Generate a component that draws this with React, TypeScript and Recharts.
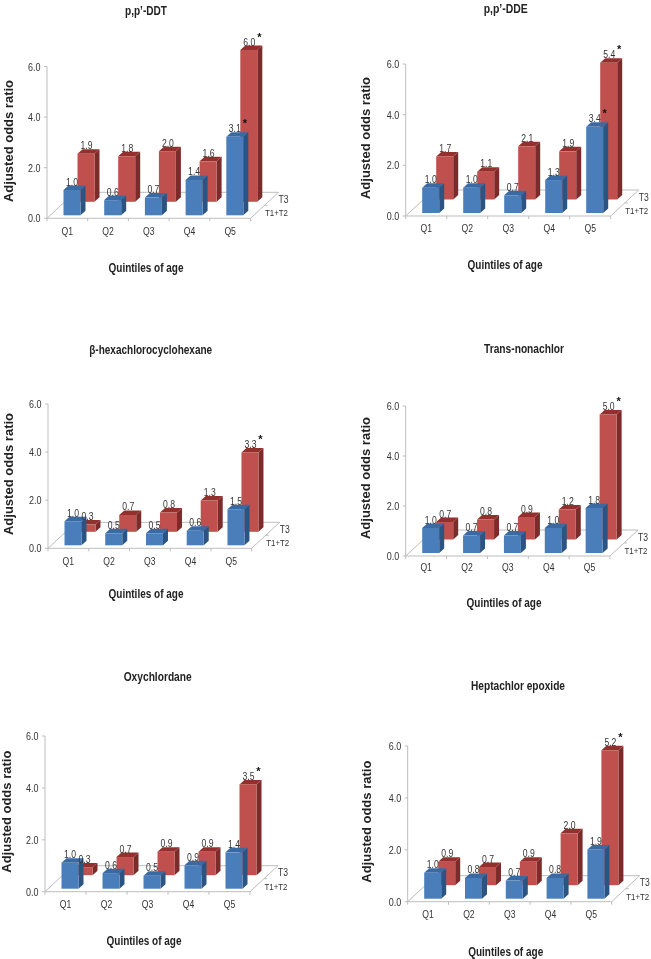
import React from "react";
import { BarChart, Bar, XAxis, YAxis, LabelList } from "recharts";

const quintiles = ["Q1", "Q2", "Q3", "Q4", "Q5"];
const depthLabels = ["T3", "T1+T2"];
const yTicks = [0, 2, 4, 6];

const ddtLow = [1.0, 0.6, 0.7, 1.4, 3.1];
const ddtHigh = [1.9, 1.8, 2.0, 1.6, 6.0];
const ddeLow = [1.0, 1.0, 0.7, 1.3, 3.4];
const ddeHigh = [1.7, 1.1, 2.1, 1.9, 5.4];
const hchLow = [1.0, 0.5, 0.5, 0.6, 1.5];
const hchHigh = [0.3, 0.7, 0.8, 1.3, 3.3];
const transLow = [1.0, 0.7, 0.7, 1.0, 1.8];
const transHigh = [0.7, 0.8, 0.9, 1.2, 5.0];
const oxyLow = [1.0, 0.6, 0.5, 0.9, 1.4];
const oxyHigh = [0.3, 0.7, 0.9, 0.9, 3.5];
const heptLow = [1.0, 0.8, 0.7, 0.8, 1.9];
const heptHigh = [0.9, 0.7, 0.9, 2.0, 5.2];

// index of the quintile carrying a significance star, per series
const starsBoth = [4];
const starsNone: number[] = [];

const FONT = "'Liberation Sans', Arial, sans-serif";
const TEXT = "#333";
const AXIS = "#bdbdbd";

const BLUE = { front: "#4a7ebb", top: "#3a6aa3", side: "#2c5482" };
const RED = { front: "#c0504d", top: "#93302d", side: "#7b2c2a" };

const DEPTH_X = 5;
const DEPTH_Y = 4.5;

function Box3D(props: any) {
  const { x, y, width, height, colors, dx, dy } = props;
  const l = x + dx;
  const t = y + dy;
  const r = l + width;
  const b = t + height;
  return (
    <g>
      <polygon
        points={`${r},${t} ${r + DEPTH_X},${t - DEPTH_Y} ${r + DEPTH_X},${b - DEPTH_Y} ${r},${b}`}
        fill={colors.side}
      />
      <polygon
        points={`${l},${t} ${l + DEPTH_X},${t - DEPTH_Y} ${r + DEPTH_X},${t - DEPTH_Y} ${r},${t}`}
        fill={colors.top}
      />
      <rect x={l} y={t} width={width} height={height} fill={colors.front} />
    </g>
  );
}

// small axis/value text, squeezed like the reference
function Small({ x, y, w, size = 11, anchor = "middle", children }: any) {
  return (
    <text x={x} y={y} textAnchor={anchor} fontSize={size} fill={TEXT} fontFamily={FONT} textLength={w} lengthAdjust="spacingAndGlyphs">
      {children}
    </text>
  );
}

function valueLabel(dx: number, dy: number, stars: number[]) {
  return (props: any) => {
    const { x, y, width, value, index } = props;
    const cx = x + width / 2 + dx;
    const cy = y + dy - 4.5;
    return (
      <g>
        <Small x={cx} y={cy} w={12}>{value.toFixed(1)}</Small>
        {stars.includes(index) && (
          <text x={cx + 10} y={cy - 5} textAnchor="middle" fontSize={11} fontWeight="bold" fill="#111" fontFamily={FONT}>
            *
          </text>
        )}
      </g>
    );
  };
}

function Panel(props: any) {
  const { title, low, high, lowStars, highStars, x0, y0, w, h, L, R, T, B, titleX, titleY, titleW, xLabelX, xLabelY, yLabelX, yLabelY, qY } = props;
  const data = quintiles.map((q, i) => ({ q, low: low[i], high: high[i] }));
  const left = L - x0;
  const right = R - x0;
  const top = T - y0;
  const bottom = B - y0;
  const band = (right - left) / quintiles.length;
  return (
    <div style={{ position: "absolute", left: x0, top: y0, width: w, height: h }}>
      <BarChart
        width={w}
        height={h}
        data={data}
        barSize={17}
        barGap={-17}
        margin={{ left: left - 30, right: w - right, top, bottom: h - bottom - 24 }}
      >
        <g stroke={AXIS} strokeWidth={1} fill="none">
          <polyline points={`${left},${bottom} ${left + 28},${bottom - 26} ${right + 28},${bottom - 26} ${right},${bottom}`} />
          <line x1={right + 14} y1={bottom - 13} x2={right + 17} y2={bottom - 13} />
          {[0, 1, 2, 3, 4, 5].map((i) => (
            <line key={i} x1={left + band * i} y1={bottom} x2={left + band * i} y2={bottom + 3} />
          ))}
        </g>
        <XAxis
          dataKey="q"
          height={24}
          interval={0}
          tickLine={false}
          axisLine={{ stroke: AXIS }}
          tick={(p: any) => <Small x={p.x} y={qY - y0 + 4} w={11.5}>{p.payload.value}</Small>}
        />
        <YAxis
          width={30}
          domain={[0, 6]}
          ticks={yTicks}
          tickSize={3}
          tickLine={{ stroke: AXIS }}
          axisLine={{ stroke: AXIS }}
          tick={(p: any) => <Small x={left - 6.5} y={p.y + 4} w={12.5} anchor="end">{p.payload.value.toFixed(1)}</Small>}
        />
        <Bar
          dataKey="high"
          isAnimationActive={false}
          shape={(p: any) => <Box3D {...p} colors={RED} dx={18.5} dy={-16.5} />}
        >
          <LabelList dataKey="high" content={valueLabel(19, -16.5, highStars)} />
        </Bar>
        <Bar
          dataKey="low"
          isAnimationActive={false}
          shape={(p: any) => <Box3D {...p} colors={BLUE} dx={4.5} dy={-3} />}
        >
          <LabelList dataKey="low" content={valueLabel(4.5, -3, lowStars)} />
        </Bar>
        <Small x={right + 33} y={bottom - 15.5} w={10} size={10}>{depthLabels[0]}</Small>
        <Small x={right + 26} y={bottom - 2} w={23} size={9.5}>{depthLabels[1]}</Small>
        <text x={titleX - x0} y={titleY - y0 + 4.5} textAnchor="middle" fontSize={12} fontWeight="bold" fill="#222" fontFamily={FONT} textLength={titleW} lengthAdjust="spacingAndGlyphs">
          {title}
        </text>
        <text x={xLabelX - x0} y={xLabelY - y0 + 4.5} textAnchor="middle" fontSize={12.5} fontWeight="bold" fill="#222" fontFamily={FONT} textLength={75} lengthAdjust="spacingAndGlyphs">
          Quintiles of age
        </text>
        <text
          transform={`translate(${yLabelX - x0 + 4.5},${yLabelY - y0}) rotate(-90)`}
          textAnchor="middle"
          fontSize={13}
          fontWeight="bold"
          fill="#222"
          fontFamily={FONT}
        >
          Adjusted odds ratio
        </text>
      </BarChart>
    </div>
  );
}

export default function App() {
  return (
    <div style={{ position: "absolute", left: 0, top: 0, width: 651, height: 959, background: "#fff", overflow: "hidden", filter: "blur(0.3px)" }}>
      <Panel title="p,p’-DDT" low={ddtLow} high={ddtHigh} lowStars={starsBoth} highStars={starsBoth}
        x0={0} y0={0} w={340} h={330} L={47} R={250.5} T={66.5} B={218.3}
        titleX={146} titleY={10} titleW={42} xLabelX={146} xLabelY={267} yLabelX={8} yLabelY={141} qY={231} />
      <Panel title="p,p’-DDE" low={ddeLow} high={ddeHigh} lowStars={starsBoth} highStars={starsBoth}
        x0={340} y0={0} w={311} h={330} L={405.7} R={610.7} T={64} B={216}
        titleX={505.7} titleY={8} titleW={44} xLabelX={505} xLabelY={264} yLabelX={365} yLabelY={138} qY={228} />
      <Panel title="β-hexachlorocyclohexane" low={hchLow} high={hchHigh} lowStars={starsNone} highStars={starsBoth}
        x0={0} y0={330} w={340} h={320} L={48} R={251.7} T={404} B={548.3}
        titleX={150.7} titleY={349} titleW={123} xLabelX={146} xLabelY={593} yLabelX={8} yLabelY={474} qY={561} />
      <Panel title="Trans-nonachlor" low={transLow} high={transHigh} lowStars={starsNone} highStars={starsBoth}
        x0={340} y0={330} w={311} h={320} L={405.7} R={610} T={406} B={556}
        titleX={524} titleY={348} titleW={80} xLabelX={504} xLabelY={602.7} yLabelX={365} yLabelY={478} qY={567} />
      <Panel title="Oxychlordane" low={oxyLow} high={oxyHigh} lowStars={starsNone} highStars={starsBoth}
        x0={0} y0={650} w={340} h={309} L={45} R={250} T={736} B={891.7}
        titleX={157.7} titleY={676} titleW={68} xLabelX={144} xLabelY={940.7} yLabelX={6} yLabelY={811.7} qY={904} />
      <Panel title="Heptachlor epoxide" low={heptLow} high={heptHigh} lowStars={starsNone} highStars={starsBoth}
        x0={340} y0={650} w={311} h={309} L={407.7} R={611.7} T={746} B={901.7}
        titleX={518} titleY={685.7} titleW={94} xLabelX={505.7} xLabelY={951} yLabelX={366.7} yLabelY={821.7} qY={914} />
    </div>
  );
}
